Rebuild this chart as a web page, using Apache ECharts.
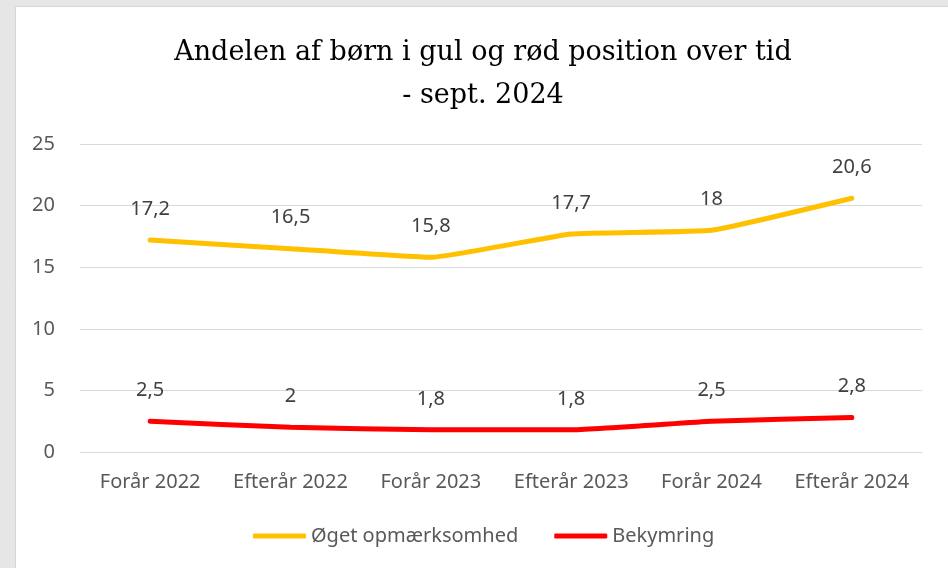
<!DOCTYPE html>
<html>
<head>
<meta charset="utf-8">
<script src="https://cdn.jsdelivr.net/npm/echarts@6/dist/echarts.min.js"></script>
<style>
  html, body { margin: 0; padding: 0; background: #e6e6e6; }
  #chart { width: 948px; height: 568px; }
</style>
</head>
<body>
<div id="chart"></div>
<script>
const categories = ['Forår 2022', 'Efterår 2022', 'Forår 2023', 'Efterår 2023', 'Forår 2024', 'Efterår 2024']
const oegetValues = [17.2, 16.5, 15.8, 17.7, 18, 20.6]
const bekymringValues = [2.5, 2, 1.8, 1.8, 2.5, 2.8]
const seriesNames = ['Øget opmærksomhed', 'Bekymring']

const labelFont = '"Noto Sans", sans-serif'

const dataLabel = {
  show: true,
  position: 'top',
  distance: 21,
  fontFamily: labelFont,
  fontSize: 20,
  color: '#404040',
  formatter: (p) => String(p.value).replace('.', ',')
}

const makeSeries = (name, data, color) => ({
  name: name,
  type: 'line',
  data: data,
  smooth: 0.12,
  symbol: 'circle',
  symbolSize: 0,
  lineStyle: { color: color, width: 5, cap: 'round', join: 'round' },
  itemStyle: { color: color },
  label: dataLabel,
  emphasis: { disabled: true }
})

const chart = echarts.init(document.getElementById('chart'))
chart.setOption({
  backgroundColor: '#e6e6e6',
  animation: false,
  graphic: [
    {
      type: 'rect',
      z: -10,
      shape: { x: 15.5, y: 6.5, width: 940, height: 570 },
      style: { fill: '#ffffff', stroke: '#d6d6d6', lineWidth: 1 }
    }
  ],
  title: {
    text: 'Andelen af børn i gul og rød position over tid\n- sept. 2024',
    left: 478,
    top: 26,
    textAlign: 'center',
    textStyle: {
      fontFamily: '"DejaVu Serif", serif',
      fontWeight: 'normal',
      fontSize: 27,
      lineHeight: 43,
      color: '#000000'
    }
  },
  legend: {
    data: seriesNames,
    left: 248,
    top: 521,
    icon: 'roundRect',
    itemWidth: 53,
    itemHeight: 5,
    itemGap: 36,
    textStyle: { fontFamily: labelFont, fontSize: 20, color: '#595959' }
  },
  grid: { left: 80, right: 26, top: 144, bottom: 116 },
  xAxis: {
    type: 'category',
    data: categories,
    boundaryGap: true,
    axisLine: { lineStyle: { color: '#d9d9d9', width: 1 } },
    axisTick: { show: false },
    axisLabel: { interval: 0, margin: 20, fontFamily: labelFont, fontSize: 20, color: '#595959' }
  },
  yAxis: {
    type: 'value',
    min: 0,
    max: 25,
    interval: 5,
    axisLine: { show: false },
    axisTick: { show: false },
    axisLabel: { margin: 25, fontFamily: labelFont, fontSize: 20, color: '#595959' },
    splitLine: { lineStyle: { color: '#d9d9d9', width: 1 } }
  },
  series: [
    makeSeries(seriesNames[0], oegetValues, '#ffc000'),
    makeSeries(seriesNames[1], bekymringValues, '#ff0000')
  ]
})
</script>
</body>
</html>
